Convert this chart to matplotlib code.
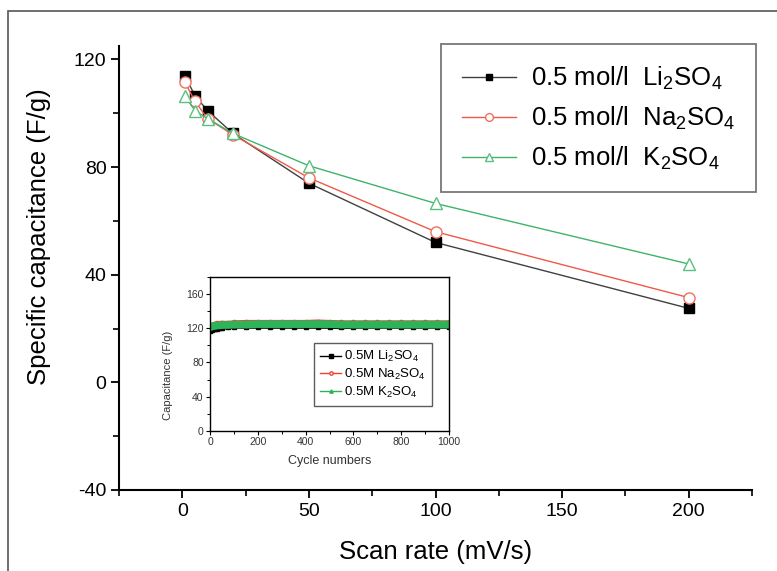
import matplotlib
matplotlib.use("Agg")
import matplotlib.pyplot as plt
from matplotlib.patches import Rectangle
from matplotlib.ticker import MultipleLocator

plt.rcParams['font.family'] = ['Liberation Sans', 'DejaVu Sans']
plt.rcParams['mathtext.fontset'] = 'custom'
plt.rcParams['mathtext.rm'] = 'Liberation Sans'
plt.rcParams['mathtext.it'] = 'Liberation Sans'
plt.rcParams['mathtext.default'] = 'regular'
plt.rcParams['axes.unicode_minus'] = False

# main plot: capacitance vs scan rate
scan_rate = [1, 5, 10, 20, 50, 100, 200]
cap_li = [114, 106.5, 101, 92.5, 74, 52, 27.5]
cap_na = [111.5, 104.5, 98, 92, 76, 56, 31.5]
cap_k = [106.5, 101, 98, 92.5, 80.5, 66.5, 44]

labels_main = ['0.5 mol/l  Li$_2$SO$_4$', '0.5 mol/l  Na$_2$SO$_4$', '0.5 mol/l  K$_2$SO$_4$']

# inset: cycling stability
cycles = [1, 10, 20, 30, 40, 50, 75, 100, 150, 200, 250, 300, 350, 400, 450,
          500, 550, 600, 650, 700, 750, 800, 850, 900, 950, 1000]
cyc_li = [117, 118, 118.5, 119, 120, 120.5, 121, 121.5, 121.5, 121.5, 121.5, 121.5, 121.5, 121.5, 121.5,
          121.5, 121, 121.5, 121.5, 121.5, 121.5, 121.5, 121.5, 121.5, 121.5, 121.5]
cyc_na = [123, 124, 125, 125.5, 125.5, 126, 126, 126.5, 127, 127, 127, 127, 127, 127, 127.5,
          127, 126.5, 126.5, 126.5, 126.5, 126.5, 126.5, 126.5, 126.5, 126.5, 126.5]
cyc_k = [121, 122, 122.5, 123, 123, 123.5, 123.5, 124, 124, 124.5, 124.5, 124.5, 124.5, 124.5, 124.5,
         124.5, 124, 124, 124, 124, 124, 124, 124, 124, 124, 124]
labels_inset = ['0.5M Li$_2$SO$_4$', '0.5M Na$_2$SO$_4$', '0.5M K$_2$SO$_4$']

c_black = '#404040'
c_red = '#ee5a48'
c_green = '#3fb36b'

fig = plt.figure(figsize=(7.77, 5.71), dpi=100)
ax = fig.add_axes([119/777, 1-490/571, (752-119)/777, (490-46)/571])

l1, = ax.plot(scan_rate, cap_li, color=c_black, lw=1, marker='s', ms=7,
              mfc='black', mec='black')
l2, = ax.plot(scan_rate, cap_na, color=c_red, lw=1, marker='o', ms=8,
              mfc='white', mec='#f07060', mew=1)
l3, = ax.plot(scan_rate, cap_k, color=c_green, lw=1, marker='^', ms=9,
              mfc='white', mec='#5bbf7f', mew=1)

ax.set_xlim(-25, 225)
ax.set_ylim(-40, 125)
ax.xaxis.set_major_locator(MultipleLocator(50))
ax.xaxis.set_minor_locator(MultipleLocator(25))
ax.yaxis.set_major_locator(MultipleLocator(40))
ax.yaxis.set_minor_locator(MultipleLocator(20))
for s in ['top', 'right']:
    ax.spines[s].set_visible(False)
for s in ['left', 'bottom']:
    ax.spines[s].set_linewidth(1.5)
ax.tick_params(which='major', direction='out', length=6, width=1.3, labelsize=14, pad=3)
ax.tick_params(which='minor', direction='out', length=4, width=1.2)
ax.set_xlabel('Scan rate (mV/s)', fontsize=18.5)
ax.set_ylabel('Specific capacitance (F/g)', fontsize=18.5)
ax.xaxis.set_label_coords(0.5, -0.112)
ax.yaxis.set_label_coords(-0.108, 0.57)

leg = fig.legend([l1, l2, l3], labels_main, loc='upper left',
                 bbox_to_anchor=(441/777, 1-44/571), fontsize=18.5, frameon=True,
                 fancybox=False, edgecolor='#555555', markerscale=0.7,
                 handlelength=2.1, handletextpad=0.6, labelspacing=0.5,
                 borderpad=0.8, borderaxespad=0)
leg.get_frame().set_linewidth(1.3)

# inset
axi = fig.add_axes([210/777, 1-431/571, (449-210)/777, (431-276.5)/571])
axi.plot(cycles, cyc_li, color='black', lw=3, marker='s', ms=3, label=labels_inset[0])
axi.plot(cycles, cyc_na, color='#f04030', lw=3, marker='o', ms=3, mfc='white',
         label=labels_inset[1])
axi.plot(cycles, cyc_k, color='#2db45a', lw=5.5, marker='^', ms=3, label=labels_inset[2])
axi.set_xlim(0, 1000)
axi.set_ylim(0, 180)
axi.xaxis.set_major_locator(MultipleLocator(200))
axi.xaxis.set_minor_locator(MultipleLocator(100))
axi.yaxis.set_major_locator(MultipleLocator(40))
axi.yaxis.set_minor_locator(MultipleLocator(20))
axi.tick_params(which='major', direction='out', length=3, width=0.8, labelsize=7.5,
                labelcolor='#333333', pad=1.5)
axi.tick_params(which='minor', direction='out', length=2, width=0.7)
for s in axi.spines.values():
    s.set_linewidth(1)
axi.set_xlabel('Cycle numbers', fontsize=9, color='#333333')
axi.set_ylabel('Capacitance (F/g)', fontsize=8, color='#333333')
axi.xaxis.set_label_coords(0.5, -0.155)
axi.yaxis.set_label_coords(-0.155, 0.36)
li = axi.legend(loc='lower right', bbox_to_anchor=(0.955, 0.12), fontsize=9.5,
                fancybox=False, edgecolor='#333333', handlelength=1.6,
                handletextpad=0.2, labelspacing=0.2, borderpad=0.45,
                markerscale=0.8)
for h in li.get_lines():
    h.set_linewidth(1)
li.get_frame().set_linewidth(1)

# outer frame of the original figure
fig.patches.append(Rectangle((8/777, -0.1), 1.2, 1.1 - 11/571, transform=fig.transFigure,
                             fill=False, edgecolor='#555555', lw=1.2))

fig.savefig('out.png', dpi=100)
